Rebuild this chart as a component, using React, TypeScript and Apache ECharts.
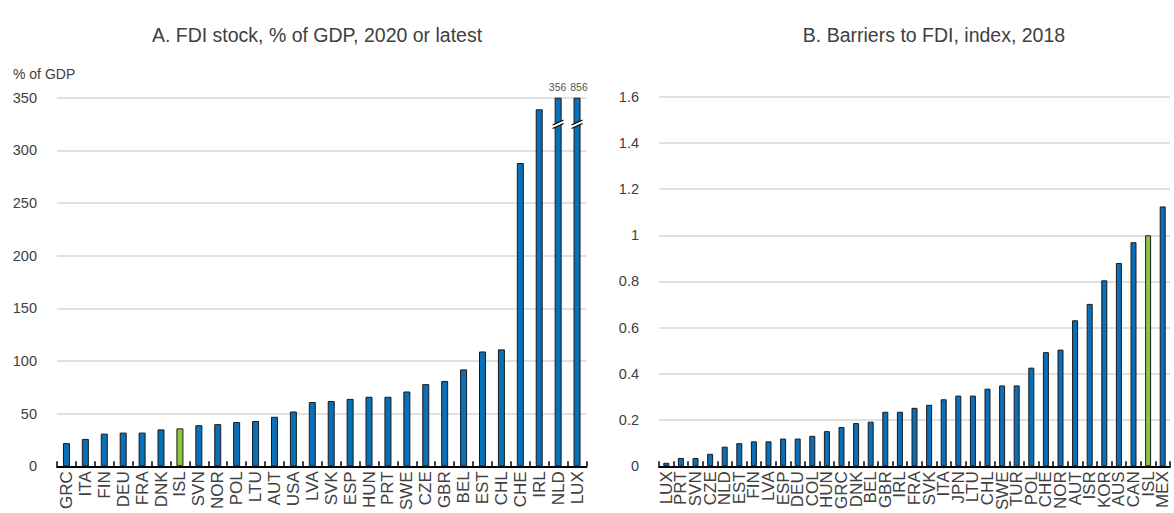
import React, { useEffect, useRef } from "react";
import * as echarts from "echarts";

const FONT = '"Liberation Sans Narrow", "Liberation Sans", Arial, sans-serif';

const catsA = ["GRC","ITA","FIN","DEU","FRA","DNK","ISL","SVN","NOR","POL","LTU","AUT","USA","LVA","SVK","ESP","HUN","PRT","SWE","CZE","GBR","BEL","EST","CHL","CHE","IRL","NLD","LUX"];
const valsA = [22, 26, 31, 32, 32, 35, 36, 39, 40, 42, 43, 47, 52, 61, 62, 64, 66, 66, 71, 78, 81, 92, 109, 111, 288, 339, 356, 856];
const ticksA = { min: 0, max: 350, interval: 50 };
const breakAtA = 326;

const catsB = ["LUX","PRT","SVN","CZE","NLD","EST","FIN","LVA","ESP","DEU","COL","HUN","GRC","DNK","BEL","GBR","IRL","FRA","SVK","ITA","JPN","LTU","CHL","SWE","TUR","POL","CHE","NOR","AUT","ISR","KOR","AUS","CAN","ISL","MEX"];
const valsB = [0.015, 0.036, 0.036, 0.054, 0.085, 0.1, 0.108, 0.108, 0.12, 0.12, 0.132, 0.152, 0.17, 0.187, 0.193, 0.236, 0.236, 0.253, 0.266, 0.29, 0.306, 0.306, 0.336, 0.35, 0.35, 0.427, 0.494, 0.505, 0.632, 0.703, 0.805, 0.88, 0.97, 1.0, 1.125];
const ticksB = { min: 0, max: 1.6, interval: 0.2 };

const highlight = "ISL";
const BLUE = "#0a6fb8";
const GREEN = "#8cc63f";
const TEXT = "#404040";

const titleA = "A. FDI stock, % of GDP, 2020 or latest";
const titleB = "B. Barriers to FDI, index, 2018";
const unitA = "% of GDP";

function barData(cats: string[], vals: number[], max: number) {
  return vals.map((v, i) => ({
    value: Math.min(v, max),
    itemStyle: { color: cats[i] === highlight ? GREEN : BLUE },
    label: v > max
      ? { show: true, formatter: String(v), offset: [i === vals.length - 1 ? 2 : -0.5, 0] }
      : { show: false },
  }));
}

const xAxisBase = {
  type: "category",
  axisLine: { lineStyle: { color: "#000", width: 2 } },
  axisTick: { show: true, inside: true, length: 5, interval: 0, lineStyle: { color: "#000", width: 1.5 } },
  axisLabel: { rotate: 90, interval: 0, fontSize: 17, color: TEXT, margin: 5, fontFamily: FONT },
};
const yAxisBase = {
  type: "value",
  axisLine: { show: false },
  axisTick: { show: false },
  splitLine: { lineStyle: { color: "#d6d6d6", width: 1.5 } },
  axisLabel: { fontSize: 14.5, color: TEXT, margin: 20, fontFamily: FONT },
};

export default function App() {
  const ref = useRef<HTMLDivElement>(null);
  useEffect(() => {
    if (!ref.current) return;
    const chart = echarts.init(ref.current, undefined, { renderer: "svg" });
    const breakData = valsA
      .map((v, i) => (v > ticksA.max ? [i, breakAtA] : null))
      .filter((d) => d !== null);
    chart.setOption({
      animation: false,
      backgroundColor: "#fff",
      textStyle: { fontFamily: FONT },
      title: [
        { text: titleA, left: 312, top: 20, textAlign: "center", textStyle: { fontSize: 19.5, fontWeight: "normal", color: TEXT, fontFamily: FONT } },
        { text: titleB, left: 929, top: 20, textAlign: "center", textStyle: { fontSize: 19.5, fontWeight: "normal", color: TEXT, fontFamily: FONT } },
      ],
      graphic: [
        { type: "text", left: 13, top: 67, style: { text: unitA, fontSize: 14, fill: TEXT, fontFamily: FONT } },
      ],
      grid: [
        { left: 57, width: 529.5, top: 97.7, bottom: 40.7 },
        { left: 659, width: 511, top: 96.7, bottom: 42 },
      ],
      xAxis: [
        { ...xAxisBase, gridIndex: 0, data: catsA },
        { ...xAxisBase, gridIndex: 1, data: catsB },
      ],
      yAxis: [
        { ...yAxisBase, gridIndex: 0, ...ticksA },
        { ...yAxisBase, gridIndex: 1, ...ticksB },
      ],
      series: [
        {
          type: "bar",
          xAxisIndex: 0,
          yAxisIndex: 0,
          barWidth: 7,
          data: barData(catsA, valsA, ticksA.max),
          itemStyle: { borderColor: "#1a1a1a", borderWidth: 1 },
          label: { position: "top", distance: 5, fontSize: 10.5, color: "#555", fontFamily: FONT },
        },
        {
          type: "custom",
          xAxisIndex: 0,
          yAxisIndex: 0,
          z: 5,
          data: breakData,
          renderItem: (params: any, api: any) => {
            const p = api.coord([api.value(0), api.value(1)]);
            const x = p[0];
            const y = p[1];
            const hw = 5.5;
            return {
              type: "group",
              children: [
                { type: "polygon", shape: { points: [[x - hw, y + 2], [x + hw, y - 3], [x + hw, y + 0.5], [x - hw, y + 5.5]] }, style: { fill: "#fff" } },
                { type: "line", shape: { x1: x - hw, y1: y + 2, x2: x + hw, y2: y - 3 }, style: { stroke: "#000", lineWidth: 1.2 } },
                { type: "line", shape: { x1: x - hw, y1: y + 5.5, x2: x + hw, y2: y + 0.5 }, style: { stroke: "#000", lineWidth: 1.2 } },
              ],
            };
          },
        },
        {
          type: "bar",
          xAxisIndex: 1,
          yAxisIndex: 1,
          barWidth: 6,
          data: barData(catsB, valsB, ticksB.max),
          itemStyle: { borderColor: "#1a1a1a", borderWidth: 1 },
        },
      ],
    });
    return () => chart.dispose();
  }, []);
  return <div ref={ref} style={{ position: "fixed", left: 0, top: 0, width: 1174, height: 513 }} />;
}
